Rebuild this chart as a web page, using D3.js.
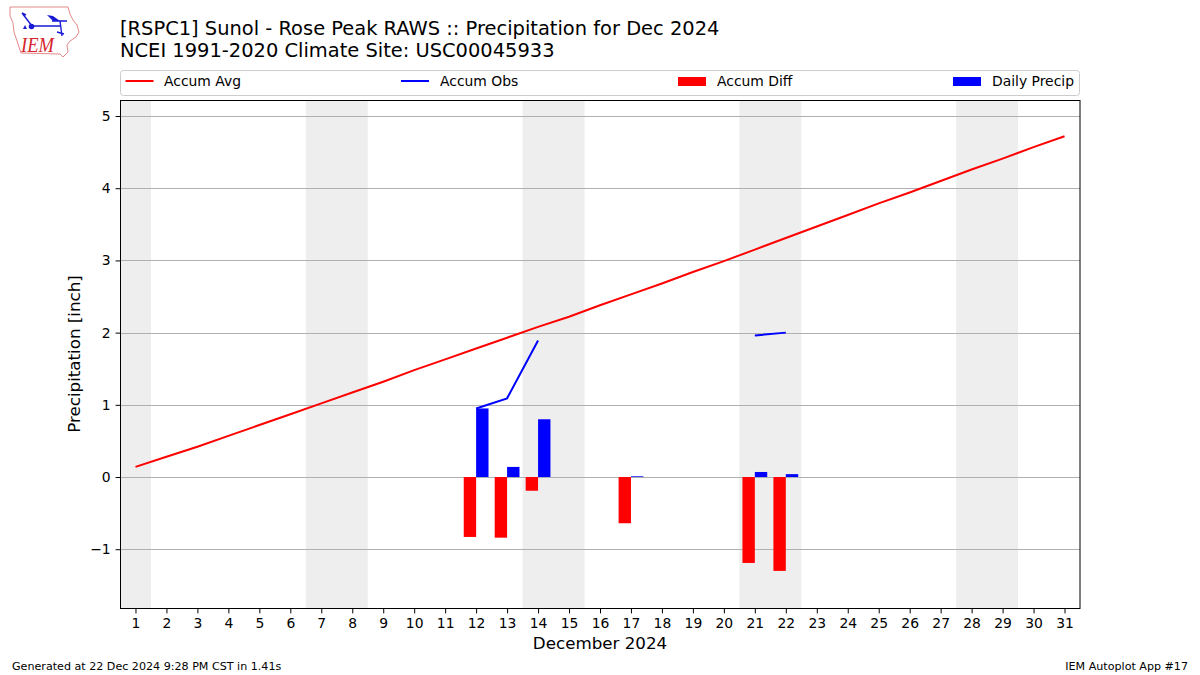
<!DOCTYPE html>
<html>
<head>
<meta charset="utf-8">
<script src="https://cdn.jsdelivr.net/npm/d3@7"></script>
<style>
  body { margin: 0; background: #fff; }
  text { font-family: "DejaVu Sans", sans-serif; fill: #000; }
</style>
</head>
<body>
<div id="chart"></div>
<script>
  'use strict';

  var days = d3.range(1, 32);
  var accumAvg = [0.14, 0.28, 0.42, 0.57, 0.72, 0.87, 1.02, 1.17, 1.32, 1.48, 1.63,
    1.78, 1.93, 2.08, 2.22, 2.38, 2.53, 2.68, 2.84, 2.99, 3.15, 3.31, 3.47, 3.63,
    3.79, 3.94, 4.10, 4.26, 4.41, 4.57, 4.72];
  var accumObs = [
    { day: 12, value: 0.95 }, { day: 13, value: 1.09 }, { day: 14, value: 1.89 },
    null,
    { day: 21, value: 1.96 }, { day: 22, value: 2.00 }
  ];
  var accumDiff = [
    { day: 12, value: -0.83 }, { day: 13, value: -0.84 }, { day: 14, value: -0.19 },
    { day: 17, value: -0.64 }, { day: 21, value: -1.19 }, { day: 22, value: -1.30 }
  ];
  var dailyPrecip = [
    { day: 12, value: 0.95 }, { day: 13, value: 0.14 }, { day: 14, value: 0.80 },
    { day: 17, value: 0.01 }, { day: 21, value: 0.07 }, { day: 22, value: 0.04 }
  ];
  var weekends = [[0.5, 1.5], [6.5, 8.5], [13.5, 15.5], [20.5, 22.5], [27.5, 29.5]];
  var yTicks = [-1, 0, 1, 2, 3, 4, 5];

  var width = 1200, height = 675;
  var margin = { top: 100, right: 120, bottom: 67, left: 120 };

  var svg = d3.select('#chart').append('svg')
    .attr('width', width)
    .attr('height', height)
    .style('display', 'block');

  var x = d3.scaleLinear().domain([0.5, 31.5]).range([margin.left, width - margin.right]);
  var y = d3.scaleLinear().domain([-1.814, 5.222]).range([height - margin.bottom, margin.top]);
  var barWidth = x(1.4) - x(1);

  // weekend shading
  svg.append('g').selectAll('rect')
    .data(weekends)
    .enter().append('rect')
    .attr('x', function (d) { return x(d[0]); })
    .attr('y', margin.top)
    .attr('width', function (d) { return x(d[1]) - x(d[0]); })
    .attr('height', height - margin.bottom - margin.top)
    .attr('fill', '#eeeeee');

  // grid
  svg.append('g').selectAll('line')
    .data(yTicks)
    .enter().append('line')
    .attr('x1', margin.left)
    .attr('x2', width - margin.right)
    .attr('y1', function (d) { return Math.round(y(d)) + 0.5; })
    .attr('y2', function (d) { return Math.round(y(d)) + 0.5; })
    .attr('stroke', '#b0b0b0')
    .attr('stroke-width', 1);

  // bars
  svg.append('g').selectAll('rect')
    .data(accumDiff)
    .enter().append('rect')
    .attr('x', function (d) { return x(d.day) - barWidth; })
    .attr('y', y(0))
    .attr('width', barWidth)
    .attr('height', function (d) { return y(d.value) - y(0); })
    .attr('fill', '#ff0000');

  svg.append('g').selectAll('rect')
    .data(dailyPrecip)
    .enter().append('rect')
    .attr('x', function (d) { return x(d.day); })
    .attr('y', function (d) { return y(d.value); })
    .attr('width', barWidth)
    .attr('height', function (d) { return y(0) - y(d.value); })
    .attr('fill', '#0000ff');

  // lines
  var line = d3.line()
    .defined(function (d) { return d !== null; })
    .x(function (d) { return x(d.day); })
    .y(function (d) { return y(d.value); });

  svg.append('path')
    .datum(accumAvg.map(function (v, i) { return { day: days[i], value: v }; }))
    .attr('d', line)
    .attr('fill', 'none')
    .attr('stroke', '#ff0000')
    .attr('stroke-width', 2);

  svg.append('path')
    .datum(accumObs)
    .attr('d', line)
    .attr('fill', 'none')
    .attr('stroke', '#0000ff')
    .attr('stroke-width', 2);

  // axes
  var xAxis = d3.axisBottom(x).tickValues(days).tickSize(4.9).tickPadding(4.9).tickFormat(d3.format('d'));
  var yAxis = d3.axisLeft(y).tickValues(yTicks).tickSize(4.9).tickPadding(4.9)
    .tickFormat(function (d) { return d < 0 ? '\u2212' + Math.abs(d) : d; });

  var gx = svg.append('g').attr('transform', 'translate(0,' + (height - margin.bottom + 0.5) + ')').call(xAxis);
  var gy = svg.append('g').attr('transform', 'translate(' + (margin.left + 0.5) + ',0)').call(yAxis);
  [gx, gy].forEach(function (g) {
    g.select('.domain').remove();
    g.selectAll('.tick line').attr('stroke', '#000');
    g.selectAll('.tick text').attr('font-size', '13.9px').style('font-family', '"DejaVu Sans", sans-serif');
  });

  svg.append('rect')
    .attr('x', margin.left + 0.5)
    .attr('y', margin.top + 0.5)
    .attr('width', width - margin.left - margin.right - 0.5)
    .attr('height', height - margin.top - margin.bottom)
    .attr('fill', 'none')
    .attr('stroke', '#000')
    .attr('stroke-width', 1);

  // titles
  svg.append('text').attr('x', 120).attr('y', 35).attr('font-size', '19.45px')
    .text('[RSPC1] Sunol - Rose Peak RAWS :: Precipitation for Dec 2024');
  svg.append('text').attr('x', 120).attr('y', 57).attr('font-size', '19.45px')
    .text('NCEI 1991-2020 Climate Site: USC00045933');

  svg.append('text').attr('x', 600).attr('y', 649).attr('text-anchor', 'middle').attr('font-size', '16.7px')
    .text('December 2024');
  svg.append('text')
    .attr('transform', 'translate(80,354) rotate(-90)')
    .attr('text-anchor', 'middle')
    .attr('font-size', '16.7px')
    .text('Precipitation [inch]');

  svg.append('text').attr('x', 12).attr('y', 670).attr('font-size', '11.12px')
    .text('Generated at 22 Dec 2024 9:28 PM CST in 1.41s');
  svg.append('text').attr('x', 1188).attr('y', 670).attr('text-anchor', 'end').attr('font-size', '11.12px')
    .text('IEM Autoplot App #17');

  // legend
  var legendItems = [
    { label: 'Accum Avg', kind: 'line', color: '#ff0000', x0: 125.5 },
    { label: 'Accum Obs', kind: 'line', color: '#0000ff', x0: 401 },
    { label: 'Accum Diff', kind: 'bar', color: '#ff0000', x0: 678 },
    { label: 'Daily Precip', kind: 'bar', color: '#0000ff', x0: 953 }
  ];
  svg.append('rect')
    .attr('x', 120.5).attr('y', 70.5).attr('width', 959).attr('height', 25)
    .attr('rx', 3).attr('fill', '#fff').attr('stroke', '#cccccc');

  var legend = svg.append('g').selectAll('g')
    .data(legendItems)
    .enter().append('g')
    .attr('transform', function (d) { return 'translate(' + d.x0 + ',0)'; });

  legend.filter(function (d) { return d.kind === 'line'; }).append('line')
    .attr('x1', 0).attr('x2', 28).attr('y1', 81).attr('y2', 81)
    .attr('stroke', function (d) { return d.color; })
    .attr('stroke-width', 2);
  legend.filter(function (d) { return d.kind === 'bar'; }).append('rect')
    .attr('x', 0).attr('y', 77).attr('width', 28).attr('height', 9)
    .attr('fill', function (d) { return d.color; });
  legend.append('text')
    .attr('x', function (d) { return d.x0 === 125.5 ? 38.5 : 39; })
    .attr('y', 86).attr('font-size', '13.9px')
    .text(function (d) { return d.label; });

  // IEM logo
  var logo = svg.append('g').attr('class', 'logo');
  logo.append('path')
    .attr('d', 'M10,7 L68,7 L70,14 L73,20 L77,25 L79,32 L76,37 L70,41 L67,45 L68,52 L63,57 L60,54 L21,53 L18,44 L14,32 L13,23 L10,16 Z')
    .attr('fill', '#fff')
    .attr('stroke', '#e48a8a')
    .attr('stroke-width', 1);
  logo.append('path')
    .attr('d', 'M32,26 L60,26 M60,21 L62,36 M52,21 L67,21 M22,13 L32,26 M22,13 L26,15 M57,32 L64,34')
    .attr('fill', 'none')
    .attr('stroke', '#1a1ad6')
    .attr('stroke-width', 1.4);
  logo.append('circle').attr('cx', 31.5).attr('cy', 26.5).attr('r', 2.8).attr('fill', '#1a1ad6');
  logo.append('path').attr('d', 'M47,15 L53,16 L60,21 L53,21 Z').attr('fill', '#1a1ad6');
  logo.append('path').attr('d', 'M23,29 L25,25 L27,29 Z').attr('fill', '#1a1ad6');
  logo.append('text')
    .attr('x', 21).attr('y', 52)
    .attr('font-size', '20px')
    .attr('font-style', 'italic')
    .attr('textLength', 33)
    .attr('lengthAdjust', 'spacingAndGlyphs')
    .style('font-family', '"Liberation Serif", serif')
    .style('fill', '#d6262c')
    .text('IEM');
</script>
</body>
</html>
